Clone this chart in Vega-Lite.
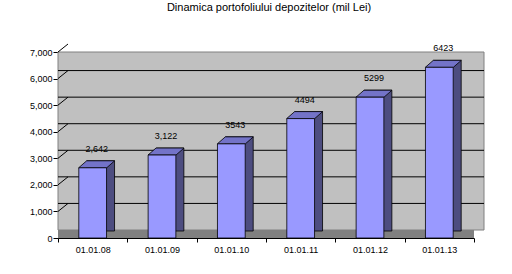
{
  "$schema": "https://vega.github.io/schema/vega-lite/v6.json",
  "width": 416,
  "height": 186,
  "autosize": "none",
  "padding": {"left": 58, "top": 52, "right": 38, "bottom": 36},
  "background": "white",
  "title": {
    "text": "Dinamica portofoliului depozitelor (mil Lei)",
    "font": "Liberation Sans",
    "fontSize": 11,
    "fontWeight": "normal",
    "color": "#000000",
    "anchor": "middle",
    "offset": 31,
    "dx": 3
  },
  "config": {
    "view": {"stroke": null},
    "font": "Liberation Sans",
    "axisX": {"labelAngle": 0, "labelFontSize": 9, "labelColor": "#000000", "tickColor": "#000000", "domainColor": "#000000", "tickSize": 4, "tickBand": "extent", "labelPadding": 3, "grid": false, "titleOpacity": 0},
    "axisY": {"values": [0, 1000, 2000, 3000, 4000, 5000, 6000, 7000], "format": ",.0f", "labelFontSize": 9, "labelColor": "#000000", "tickColor": "#000000", "domainColor": "#000000", "tickSize": 5, "labelPadding": 1, "grid": false, "titleOpacity": 0}
  },
  "data": {
    "values": [
      {"date": "01.01.08", "value": 2642, "label": "2,642"},
      {"date": "01.01.09", "value": 3122, "label": "3,122"},
      {"date": "01.01.10", "value": 3543, "label": "3543"},
      {"date": "01.01.11", "value": 4494, "label": "4494"},
      {"date": "01.01.12", "value": 5299, "label": "5299"},
      {"date": "01.01.13", "value": 6423, "label": "6423"}
    ]
  },
  "layer": [
    {
      "data": {"values": [{}]},
      "mark": {"type": "rect", "fill": "#c0c0c0", "stroke": "#808080", "strokeWidth": 1, "xOffset": 10, "yOffset": -8},
      "encoding": {
        "y": {"datum": 0, "type": "quantitative", "title": null, "scale": {"domain": [0, 7000], "nice": false}},
        "y2": {"datum": 7000}
      }
    },
    {
      "data": {"values": [{"v": 1000}, {"v": 2000}, {"v": 3000}, {"v": 4000}, {"v": 5000}, {"v": 6000}]},
      "mark": {"type": "rule", "color": "#000000", "strokeWidth": 1, "xOffset": 10, "yOffset": -8},
      "encoding": {
        "y": {"field": "v", "type": "quantitative", "title": null}
      }
    },
    {
      "data": {"values": [{"v": 1000}, {"v": 2000}, {"v": 3000}, {"v": 4000}, {"v": 5000}, {"v": 6000}, {"v": 7000}]},
      "mark": {"type": "rule", "color": "#000000", "strokeWidth": 1, "x2Offset": 10, "y2Offset": -8},
      "encoding": {
        "x": {"datum": "01.01.08", "type": "nominal", "bandPosition": 0, "title": null},
        "x2": {"datum": "01.01.08", "bandPosition": 0},
        "y": {"field": "v", "type": "quantitative", "title": null},
        "y2": {"field": "v"}
      }
    },
    {
      "data": {"values": [{}]},
      "mark": {"type": "rect", "fill": "#808080", "x2Offset": 10, "y2Offset": -8},
      "encoding": {
        "y": {"datum": 0, "type": "quantitative", "title": null},
        "y2": {"datum": 0}
      }
    },
    {
      "mark": {"type": "bar", "width": {"band": 0.4}, "fill": "#4d4d80", "stroke": "#000000", "strokeWidth": 0.8, "xOffset": 8, "yOffset": -7},
      "encoding": {
        "x": {"field": "date", "type": "nominal", "sort": null, "title": null},
        "y": {"field": "value", "type": "quantitative", "title": null}
      }
    },
    {
      "mark": {"type": "point", "shape": "M-1,0.194L0.556,0.194L1,-0.194L-0.556,-0.194Z", "size": 1296, "filled": true, "fill": "#7373c8", "stroke": "#000000", "strokeWidth": 0.8, "opacity": 1, "xOffset": 4, "yOffset": -3.5},
      "encoding": {
        "x": {"field": "date", "type": "nominal", "sort": null, "title": null},
        "y": {"field": "value", "type": "quantitative", "title": null}
      }
    },
    {
      "mark": {"type": "bar", "width": {"band": 0.4}, "fill": "#9999ff", "stroke": "#000000", "strokeWidth": 0.8},
      "encoding": {
        "x": {"field": "date", "type": "nominal", "sort": null, "title": null, "scale": {"paddingInner": 0, "paddingOuter": 0}},
        "y": {"field": "value", "type": "quantitative", "title": null}
      }
    },
    {
      "mark": {"type": "text", "fontSize": 9, "color": "#000000", "align": "center", "baseline": "middle", "dx": 4, "dy": -19},
      "encoding": {
        "x": {"field": "date", "type": "nominal", "sort": null, "title": null},
        "y": {"field": "value", "type": "quantitative", "title": null},
        "text": {"field": "label"}
      }
    }
  ]
}
